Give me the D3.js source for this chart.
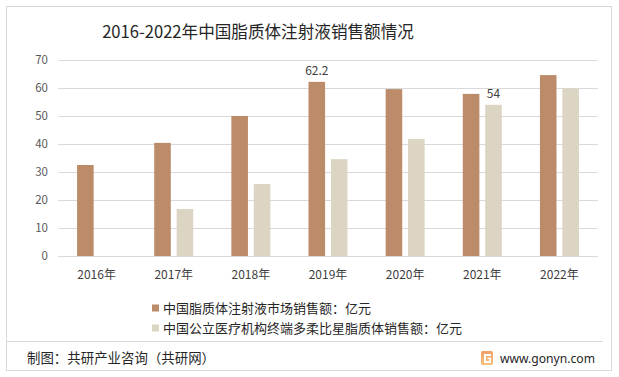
<!DOCTYPE html>
<html><head><meta charset="utf-8">
<script src="https://cdn.jsdelivr.net/npm/d3@7"></script>
<style>
html,body{margin:0;padding:0;background:#fff;}
svg{display:block;font-family:"Noto Sans CJK SC","Noto Sans",sans-serif;}
</style></head>
<body><svg id="c" width="619" height="377"></svg>
<script>
const titleText = "2016-2022年中国脂质体注射液销售额情况";
const categories = ["2016年","2017年","2018年","2019年","2020年","2021年","2022年"];
const seriesNames = ["中国脂质体注射液市场销售额：亿元","中国公立医疗机构终端多柔比星脂质体销售额：亿元"];
const marketSales = [32.5, 40.4, 50.0, 62.2, 59.6, 57.9, 64.6];
const doxorubicinSales = [null, 16.8, 25.7, 34.6, 41.8, 54.0, 59.8];
const yTicks = [0,10,20,30,40,50,60,70];
const labelled = [{series:0, index:3, text:"62.2"},{series:1, index:5, text:"54"}];
const colors = ["#BC8C6A","#DDD5C3"];
const footerLeft = "制图：共研产业咨询（共研网）";
const footerRight = "www.gonyn.com";

const svg = d3.select("#c");
svg.append("rect").attr("x",6.5).attr("y",6.5).attr("width",605).attr("height",364)
  .attr("fill","#fff").attr("stroke","#D9D9D9").attr("stroke-width",1);

svg.append("text").attr("x",258).attr("y",38).attr("text-anchor","middle")
  .attr("font-size",16.6).attr("fill","#262626").text(titleText);

const x = d3.scaleBand().domain(categories).range([58,598]);
const y = d3.scaleLinear().domain([0,70]).range([256,60]);

const g = svg.append("g");
g.selectAll("line.grid").data(yTicks).join("line").attr("class","grid")
  .attr("x1",58).attr("x2",598).attr("y1",d=>Math.round(y(d))+0.5).attr("y2",d=>Math.round(y(d))+0.5)
  .attr("stroke","#D9D9D9").attr("stroke-width",1);

const yAxis = d3.axisLeft(y).tickValues(yTicks).tickSize(0).tickPadding(0);
const ya = g.append("g").attr("transform","translate(48,0)").call(yAxis);
ya.select(".domain").remove();
ya.selectAll("text").attr("font-size",11.5).attr("fill","#595959").attr("font-family","'Noto Sans CJK SC',sans-serif");

const xAxis = d3.axisBottom(x).tickSize(0).tickPadding(0);
const xa = g.append("g").attr("transform","translate(0,270)").call(xAxis);
xa.select(".domain").remove();
xa.selectAll("text").attr("font-size",12).attr("fill","#404040").attr("font-family","'Noto Sans CJK SC',sans-serif");

const inner = d3.scaleBand().domain([0,1]).range([-19.5,19.5]).paddingInner(0.26);
const series = [marketSales, doxorubicinSales];
series.forEach((vals,si)=>{
  g.selectAll("rect.s"+si).data(categories.map((c,i)=>({c,v:vals[i]})).filter(d=>d.v!=null))
    .join("rect").attr("class","s"+si)
    .attr("x",d=>x(d.c)+x.bandwidth()/2+inner(si))
    .attr("width",inner.bandwidth())
    .attr("y",d=>y(d.v)).attr("height",d=>y(0)-y(d.v))
    .attr("fill",colors[si]);
});

labelled.forEach(l=>{
  const v = series[l.series][l.index];
  g.append("text").attr("x",x(categories[l.index])+x.bandwidth()/2+inner(l.series)+inner.bandwidth()/2)
    .attr("y",y(v)-7).attr("text-anchor","middle").attr("font-size",12).attr("fill","#404040").text(l.text);
});

// legend
seriesNames.forEach((n,i)=>{
  const ly = 308 + i*20;
  svg.append("rect").attr("x",152).attr("y",ly-3.5).attr("width",7).attr("height",7).attr("fill",colors[i]);
  svg.append("text").attr("x",163).attr("y",ly).attr("dy","0.36em").attr("font-size",13).attr("fill","#262626").text(n);
});

// footer
svg.append("line").attr("x1",7).attr("x2",603).attr("y1",341.5).attr("y2",341.5).attr("stroke","#D9D9D9");
svg.append("text").attr("x",27).attr("y",358).attr("dy","0.36em").attr("font-size",13.4).attr("fill","#262626")
  .attr("textLength",188).attr("lengthAdjust","spacing").text(footerLeft);
const defs = svg.append("defs");
const gr = defs.append("linearGradient").attr("id","lg").attr("x1",0).attr("y1",0).attr("x2",0).attr("y2",1);
gr.append("stop").attr("offset","0%").attr("stop-color","#F3A06A");
gr.append("stop").attr("offset","100%").attr("stop-color","#F7C27E");
svg.append("rect").attr("x",481).attr("y",351).attr("width",12).attr("height",14).attr("rx",1.5).attr("fill","url(#lg)");
svg.append("path").attr("d","M484,354 h7 v2 h-5 v5 h3 v-2 h-1.5 v-1.5 h3.5 v5.5 h-7 z").attr("fill","#fff");
svg.append("text").attr("x",500).attr("y",358).attr("dy","0.36em").attr("font-size",12.8).attr("fill","#262626")
  .attr("font-family","'Noto Sans','DejaVu Sans',sans-serif").attr("textLength",95).attr("lengthAdjust","spacingAndGlyphs").text(footerRight);
</script></body></html>
